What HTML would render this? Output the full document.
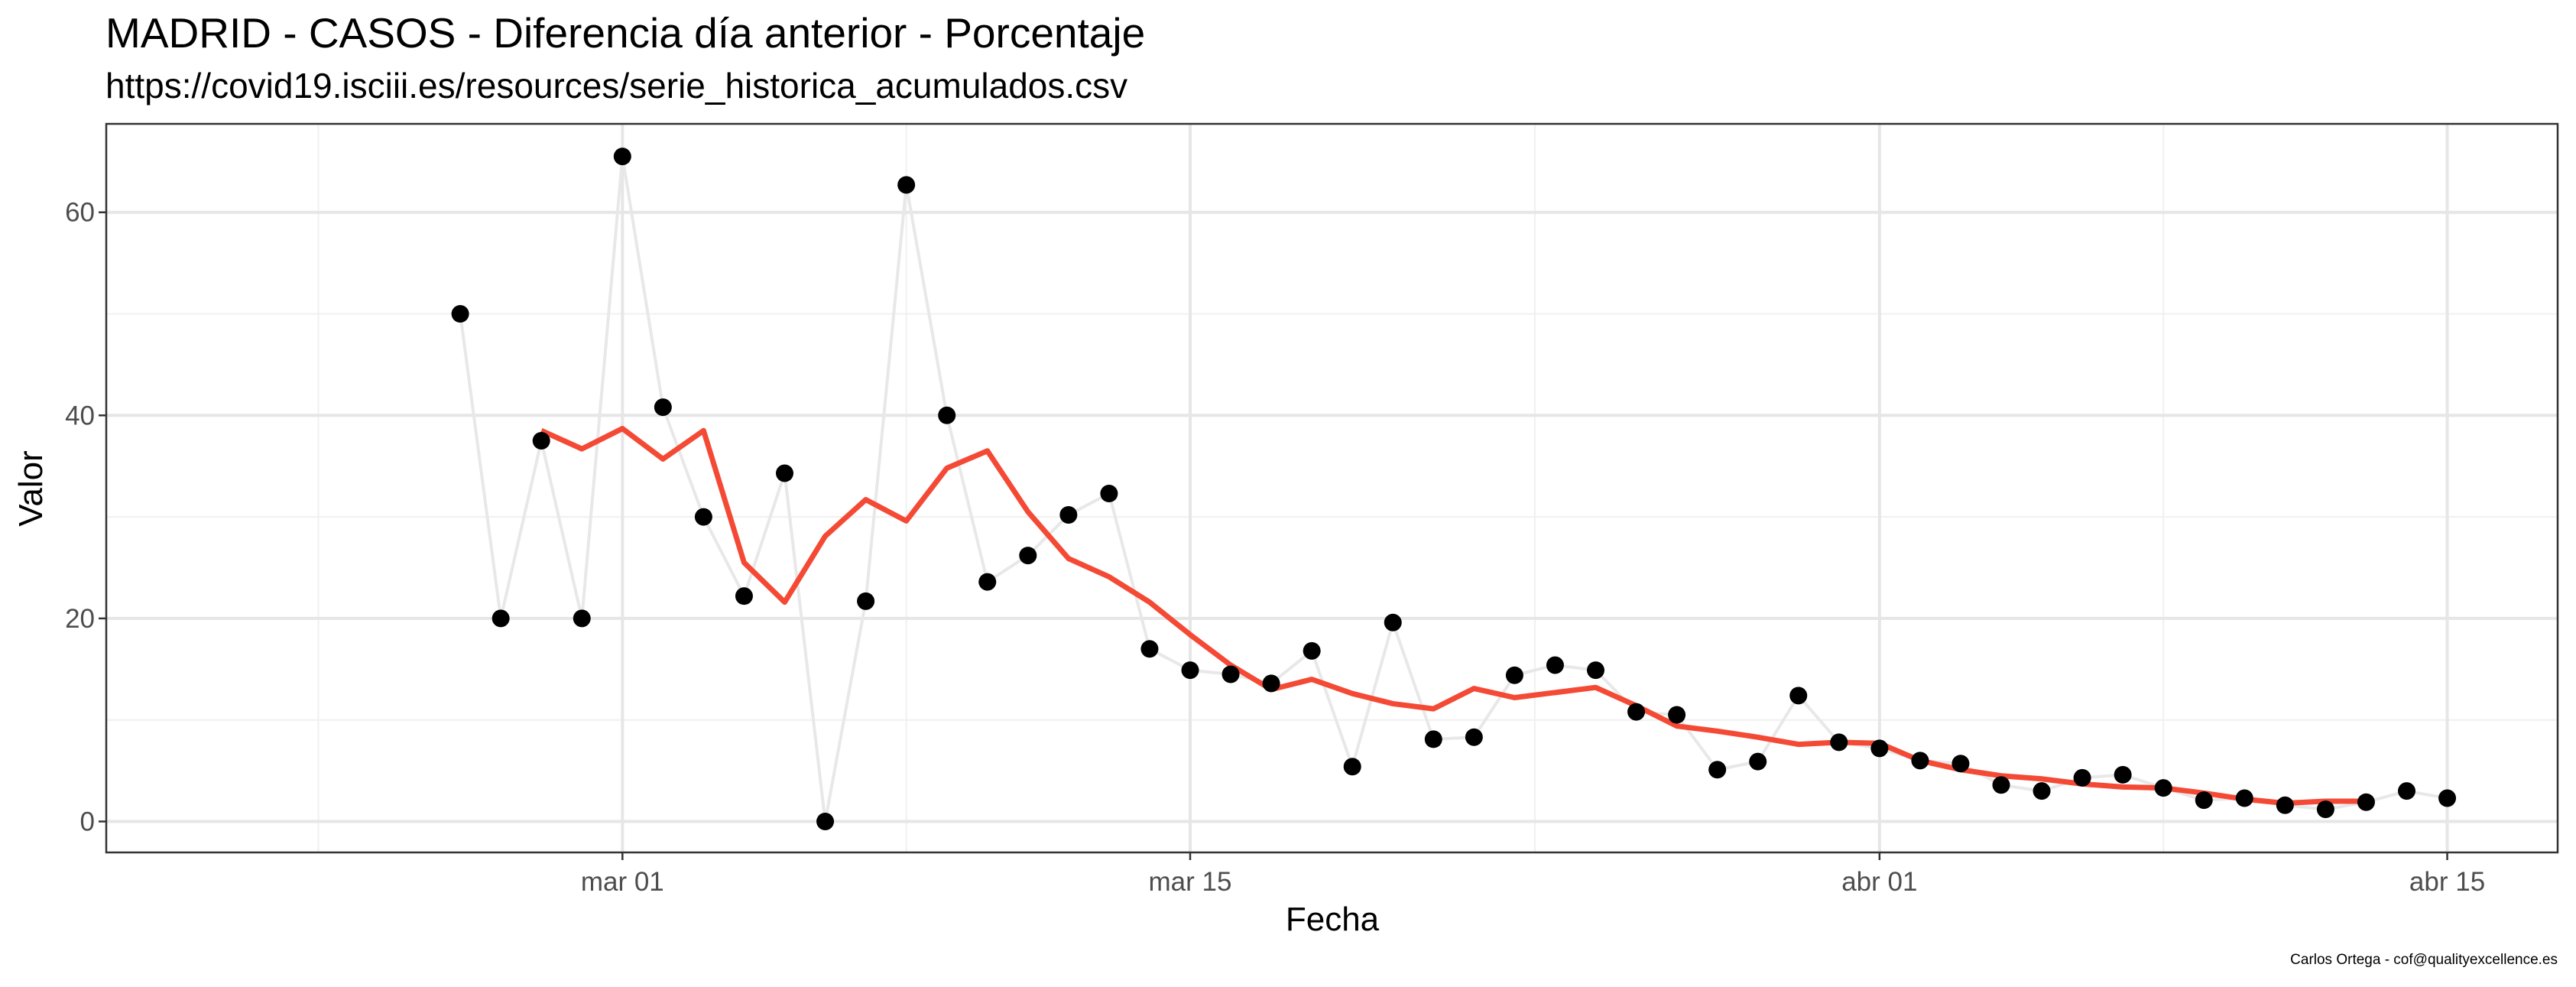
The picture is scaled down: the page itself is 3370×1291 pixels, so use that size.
<!DOCTYPE html>
<html><head><meta charset="utf-8"><style>
html,body{margin:0;padding:0;background:#fff;}
svg{display:block;font-family:"Liberation Sans",Arial,sans-serif;}
</style></head><body>
<svg id="chart" width="3370" height="1291" viewBox="0 0 3370 1291" xmlns="http://www.w3.org/2000/svg">
<rect x="0" y="0" width="3370" height="1291" fill="#fff"/>
<text x="138" y="62" font-size="55" fill="#000">MADRID - CASOS - Diferencia día anterior - Porcentaje</text>
<text x="138" y="128" font-size="46" fill="#000">https://covid19.isciii.es/resources/serie_historica_acumulados.csv</text>
<g id="grid"></g>
<g id="marks"></g>
<rect x="139" y="162" width="3207" height="953" fill="none" stroke="#333" stroke-width="2.5"/>
<g id="axes"></g>
<text x="1743" y="1217" font-size="44" text-anchor="middle" fill="#000">Fecha</text>
<text transform="translate(55,639) rotate(-90)" font-size="44" text-anchor="middle" fill="#000">Valor</text>
<text x="3346" y="1261" font-size="19" text-anchor="end" fill="#000">Carlos Ortega - cof@qualityexcellence.es</text>
</svg>
<script>
// days relative to Mar 01 (2020)
const pointDays = [-4,-3,-2,-1,0,1,2,3,4,5,6,7,8,9,10,11,12,13,14,15,16,17,18,19,20,21,22,23,24,25,26,27,28,29,30,31,32,33,34,35,36,37,38,39,40,41,42,43,44,45];
const pointValues = [50,20,37.5,20,65.5,40.8,30,22.2,34.3,0,21.7,62.7,40,23.6,26.2,30.2,32.3,17,14.9,14.5,13.6,16.8,5.4,19.6,8.1,8.3,14.4,15.4,14.9,10.8,10.5,5.1,5.9,12.4,7.8,7.2,6.0,5.7,3.6,3.0,4.3,4.6,3.3,2.1,2.3,1.6,1.2,1.9,3.0,2.3];
const trendDays = [-2,-1,0,1,2,3,4,5,6,7,8,9,10,11,12,13,14,15,16,17,18,19,20,21,22,23,24,25,26,27,28,29,30,31,32,33,34,35,36,37,38,39,40,41,42,43];
const trendValues = [38.5,36.7,38.7,35.7,38.5,25.5,21.6,28.1,31.7,29.6,34.8,36.5,30.5,25.9,24.1,21.6,18.4,15.4,13.0,14.0,12.6,11.6,11.1,13.1,12.2,12.7,13.2,11.4,9.4,8.9,8.3,7.6,7.8,7.7,6.0,5.1,4.5,4.2,3.7,3.4,3.3,2.8,2.2,1.8,2.0,2.0];
const yTicks = [0,20,40,60];
const yMinor = [10,30,50];
const xTickDays = [0,14,31,45];
const xTickLabels = ["mar 01","mar 15","abr 01","abr 15"];
const xMinorDays = [-7.5,7,22.5,38];

const NS="http://www.w3.org/2000/svg";
const PL=139, PR=3346, PT=162, PB=1115;
function xs(d){return 814.3 + d*53.05;}
function ys(v){return 1074.5 - v*13.28;}
function mk(tag, attrs, parent){const e=document.createElementNS(NS,tag);for(const k in attrs)e.setAttribute(k,attrs[k]);parent.appendChild(e);return e;}
const grid=document.getElementById('grid'), marks=document.getElementById('marks'), axes=document.getElementById('axes');

yMinor.forEach(v=>{const l=mk('line',{x1:PL,x2:PR,y1:ys(v),y2:ys(v),stroke:'#f0f0f0','stroke-width':2},grid);

});
xMinorDays.forEach(d=>{const l=mk('line',{x1:xs(d),x2:xs(d),y1:PT,y2:PB,stroke:'#f0f0f0','stroke-width':2},grid);

});
yTicks.forEach(v=>{const l=mk('line',{x1:PL,x2:PR,y1:ys(v),y2:ys(v),stroke:'#e6e6e6','stroke-width':4},grid);


const t=mk('line',{x1:PL-10,x2:PL,y1:ys(v),y2:ys(v),stroke:'#333','stroke-width':2.5},axes);


const tx=mk('text',{x:PL-15,y:ys(v)+12,'font-size':35,'text-anchor':'end',fill:'#4d4d4d'},axes);
tx.textContent=v;

});
xTickDays.forEach((d,i)=>{const l=mk('line',{x1:xs(d),x2:xs(d),y1:PT,y2:PB,stroke:'#e6e6e6','stroke-width':4},grid);


const t=mk('line',{x1:xs(d),x2:xs(d),y1:PB,y2:PB+10,stroke:'#333','stroke-width':2.5},axes);


const tx=mk('text',{x:xs(d),y:1165,'font-size':35,'text-anchor':'middle',fill:'#4d4d4d'},axes);
tx.textContent=xTickLabels[i];

});

const gl=mk('polyline',{points:pointDays.map((d,i)=>xs(d)+','+ys(pointValues[i])).join(' '),fill:'none',stroke:'#e8e8e8','stroke-width':4},marks);


const rl=mk('polyline',{points:trendDays.map((d,i)=>xs(d)+','+ys(trendValues[i])).join(' '),fill:'none',stroke:'#f44a35','stroke-width':7,'stroke-linejoin':'round'},marks);


pointDays.forEach((d,i)=>{const c=mk('circle',{cx:xs(d),cy:ys(pointValues[i]),r:11.5,fill:'#000'},marks);

});
</script>
</body></html>
